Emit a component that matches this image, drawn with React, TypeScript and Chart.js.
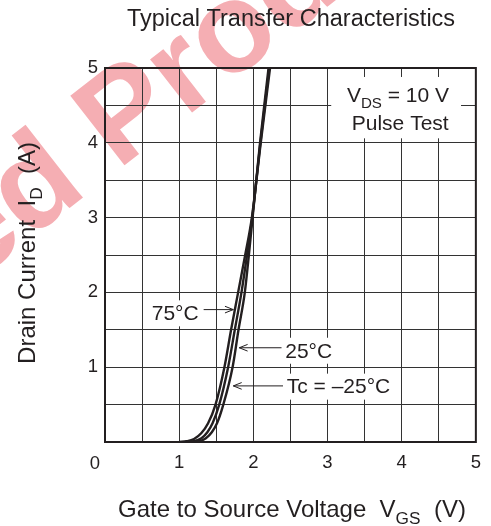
import { useEffect, useRef } from 'react';
import { Chart, registerables } from 'chart.js';

Chart.register(...registerables);

// ---- data (VGS in V, ID in A) ----
const vgs75 = [1.0, 1.1, 1.2, 1.3, 1.39, 1.49, 1.61, 1.70, 1.795, 1.89, 1.98, 2.10, 2.225];
const id75 = [0, 0.01, 0.04, 0.12, 0.25, 0.5, 1.0, 1.5, 2.0, 2.5, 3.0, 4.0, 5.0];
const vgs25 = [1.08, 1.2, 1.3, 1.38, 1.45, 1.54, 1.66, 1.75, 1.84, 1.915, 1.985, 2.095, 2.215];
const id25 = [0, 0.01, 0.05, 0.13, 0.25, 0.5, 1.0, 1.5, 2.0, 2.5, 3.0, 4.0, 5.0];
const vgsM25 = [1.15, 1.27, 1.36, 1.44, 1.51, 1.595, 1.72, 1.80, 1.885, 1.94, 1.99, 2.09, 2.205];
const idM25 = [0, 0.01, 0.05, 0.13, 0.25, 0.5, 1.0, 1.5, 2.0, 2.5, 3.0, 4.0, 5.0];

const xTickLabels = ['1', '2', '3', '4', '5'];
const yTickLabels = ['1', '2', '3', '4', '5'];

const FONT = '"Liberation Sans", Arial, Helvetica, sans-serif';
const INK = '#231f20';

type Part = { t: string; sub?: boolean };

function richWidth(ctx: CanvasRenderingContext2D, parts: Part[], size: number) {
  let w = 0;
  for (const p of parts) {
    ctx.font = `${p.sub ? size * 0.72 : size}px ${FONT}`;
    w += ctx.measureText(p.t).width;
  }
  return w;
}

function drawRich(ctx: CanvasRenderingContext2D, parts: Part[], x: number, y: number, size: number, align: 'left' | 'center') {
  const w = richWidth(ctx, parts, size);
  let cx = align === 'center' ? x - w / 2 : x;
  ctx.textAlign = 'left';
  ctx.textBaseline = 'alphabetic';
  for (const p of parts) {
    ctx.font = `${p.sub ? size * 0.72 : size}px ${FONT}`;
    ctx.fillText(p.t, cx, p.sub ? y + size * 0.28 : y);
    cx += ctx.measureText(p.t).width;
  }
}

function arrow(ctx: CanvasRenderingContext2D, x1: number, y1: number, x2: number, y2: number) {
  ctx.beginPath();
  ctx.moveTo(x1, y1);
  ctx.lineTo(x2, y2);
  const a = Math.atan2(y2 - y1, x2 - x1);
  const L = 9, s = 0.38;
  ctx.moveTo(x2 - L * Math.cos(a - s), y2 - L * Math.sin(a - s));
  ctx.lineTo(x2, y2);
  ctx.lineTo(x2 - L * Math.cos(a + s), y2 - L * Math.sin(a + s));
  ctx.stroke();
}

const decorPlugin = {
  id: 'decor',
  beforeDraw(chart: any) {
    const ctx: CanvasRenderingContext2D = chart.ctx;
    ctx.save();
    ctx.fillStyle = '#ffffff';
    ctx.fillRect(0, 0, chart.width, chart.height);
    // watermark
    const size = 128;
    ctx.font = `bold ${size}px ${FONT}`;
    const wm = 'Discontinued Product';
    const pre = ctx.measureText('Discontinued ').width;
    const pw = ctx.measureText('P').width;
    const ang = (-38 * Math.PI) / 180;
    const lx = pre + pw / 2, ly = -0.36 * size;
    const tx = 123, ty = 108;
    const c = Math.cos(ang), s = Math.sin(ang);
    const ox = tx - (lx * c - ly * s);
    const oy = ty - (lx * s + ly * c);
    ctx.translate(ox, oy);
    ctx.rotate(ang);
    ctx.fillStyle = '#f5aeb3';
    ctx.textAlign = 'left';
    ctx.textBaseline = 'alphabetic';
    ctx.fillText(wm, 0, 0);
    ctx.restore();
  },
  afterDraw(chart: any) {
    const ctx: CanvasRenderingContext2D = chart.ctx;
    const { left, right, top, bottom } = chart.chartArea;
    const xs = chart.scales.x, ys = chart.scales.y;
    const px = (v: number) => xs.getPixelForValue(v);
    const py = (v: number) => ys.getPixelForValue(v);
    ctx.save();
    // frame
    ctx.strokeStyle = INK;
    ctx.lineWidth = 2;
    ctx.strokeRect(left, top, right - left, bottom - top);

    ctx.fillStyle = INK;
    // title
    ctx.font = `23.5px ${FONT}`;
    ctx.textAlign = 'center';
    ctx.textBaseline = 'alphabetic';
    ctx.fillText('Typical Transfer Characteristics', 291, 26);

    // corner zero
    ctx.font = `18.5px ${FONT}`;
    ctx.textAlign = 'center';
    ctx.fillText('0', 95, 469);

    // x title
    drawRich(ctx, [{ t: 'Gate to Source Voltage  V' }, { t: 'GS', sub: true }, { t: '  (V)' }], 292, 517, 24, 'center');

    // y title
    ctx.save();
    ctx.translate(35, 253);
    ctx.rotate(-Math.PI / 2);
    drawRich(ctx, [{ t: 'Drain Current  I' }, { t: 'D', sub: true }, { t: '  (A)' }], 0, 0, 24, 'center');
    ctx.restore();

    // condition box
    ctx.fillStyle = '#ffffff';
    ctx.fillRect(px(3.05), py(4.88), px(4.8) - px(3.05), py(4.06) - py(4.88));
    ctx.fillStyle = INK;
    drawRich(ctx, [{ t: 'V' }, { t: 'DS', sub: true }, { t: ' = 10 V' }], px(3.95), py(4.54), 21, 'center');
    drawRich(ctx, [{ t: 'Pulse Test' }], px(3.98), py(4.165), 21, 'center');

    // curve labels
    const labels = [
      { t: '75°C', x: 0.63, y: 1.72, ax1: 1.33, ax2: 1.73, ay: 1.77 },
      { t: '25°C', x: 2.43, y: 1.22, ax1: 2.38, ax2: 1.81, ay: 1.26 },
      { t: 'Tc = –25°C', x: 2.45, y: 0.74, ax1: 2.4, ax2: 1.73, ay: 0.75 },
    ];
    for (const l of labels) {
      ctx.font = `21px ${FONT}`;
      const w = ctx.measureText(l.t).width;
      const lx = px(l.x), ly = py(l.y);
      ctx.fillStyle = '#ffffff';
      ctx.fillRect(lx - 3, ly - 13, w + 6, 26);
      ctx.fillStyle = INK;
      ctx.textAlign = 'left';
      ctx.textBaseline = 'middle';
      ctx.fillText(l.t, lx, ly + 1);
      ctx.strokeStyle = INK;
      ctx.lineWidth = 1;
      arrow(ctx, px(l.ax1), py(l.ay), px(l.ax2), py(l.ay));
    }
    ctx.restore();
  },
};

export default function App() {
  const ref = useRef<HTMLCanvasElement | null>(null);
  useEffect(() => {
    if (!ref.current) return;
    const mk = (xs: number[], ys: number[]) => xs.map((x, i) => ({ x, y: ys[i] }));
    const ds = (data: any) => ({
      data,
      borderColor: INK,
      borderWidth: 2.4,
      pointRadius: 0,
      fill: false,
      cubicInterpolationMode: 'monotone' as const,
    });
    const chart = new Chart(ref.current, {
      type: 'line',
      data: {
        datasets: [ds(mk(vgs75, id75)), ds(mk(vgs25, id25)), ds(mk(vgsM25, idM25))],
      },
      options: {
        animation: false,
        responsive: false,
        events: [],
        layout: { padding: { left: 0, right: 13, top: 68, bottom: 0 } },
        plugins: { legend: { display: false }, tooltip: { enabled: false }, title: { display: false } },
        scales: {
          x: {
            type: 'linear',
            min: 0,
            max: 5,
            afterFit: (s: any) => { s.height = 84; },
            grid: { color: '#333333', lineWidth: 1, drawTicks: false },
            border: { display: false },
            ticks: {
              stepSize: 0.5,
              autoSkip: false,
              maxRotation: 0,
              padding: 10,
              color: INK,
              font: { family: FONT, size: 18.5 },
              callback: (v: any) => {
                const n = Number(v);
                return Number.isInteger(n) && n > 0 ? xTickLabels[n - 1] : '';
              },
            },
          },
          y: {
            type: 'linear',
            min: 0,
            max: 5,
            afterFit: (s: any) => { s.width = 105; },
            grid: { color: '#333333', lineWidth: 1, drawTicks: false },
            border: { display: false },
            ticks: {
              stepSize: 0.5,
              autoSkip: false,
              padding: 7,
              color: INK,
              font: { family: FONT, size: 18.5 },
              callback: (v: any) => {
                const n = Number(v);
                return Number.isInteger(n) && n > 0 ? yTickLabels[n - 1] : '';
              },
            },
          },
        },
      },
      plugins: [decorPlugin],
    });
    return () => chart.destroy();
  }, []);
  return (
    <div style={{ position: 'fixed', left: 0, top: 0, width: 491, height: 526 }}>
      <canvas ref={ref} width={491} height={526} style={{ width: 491, height: 526, display: 'block' }} />
    </div>
  );
}
